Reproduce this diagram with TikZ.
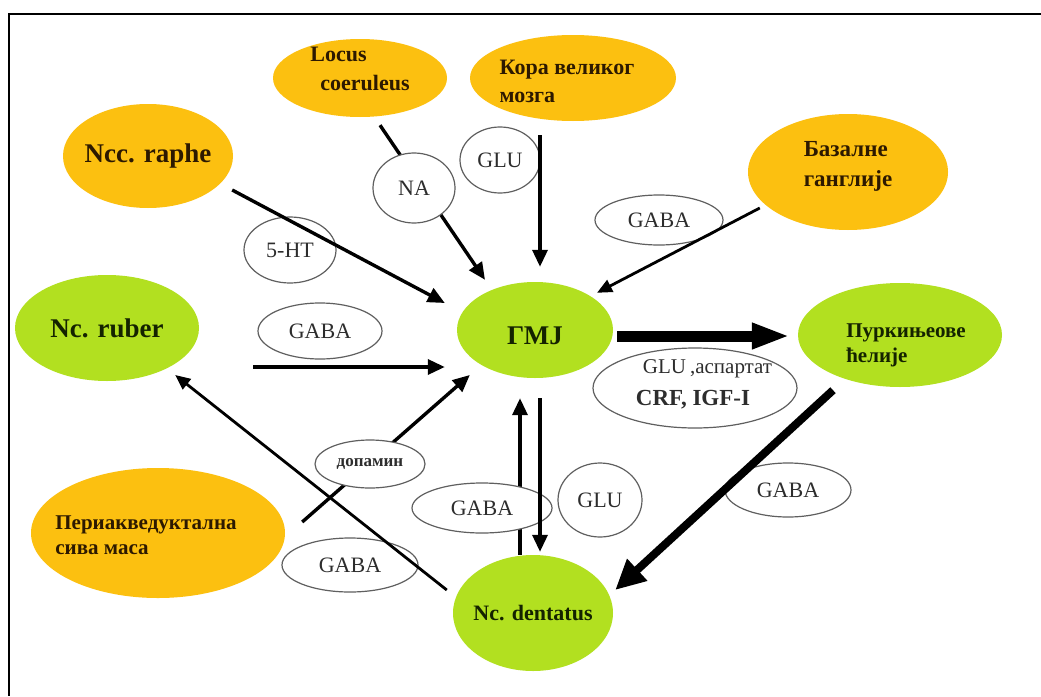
\documentclass[tikz,border=0pt]{standalone}
\usepackage{fontspec}
\setmainfont{Liberation Serif}
\usetikzlibrary{shapes.geometric,arrows.meta}
\definecolor{orng}{RGB}{252,192,16}
\definecolor{grn}{RGB}{178,224,32}
\definecolor{otext}{RGB}{45,25,0}
\definecolor{gtext}{RGB}{20,35,0}
\definecolor{lblline}{RGB}{95,95,95}
\definecolor{lbltext}{RGB}{45,45,45}
\begin{document}
\begin{tikzpicture}[x=1pt,y=-1pt,
  region/.style={ellipse, draw=none, inner sep=0pt},
  orangebox/.style={region, fill=orng},
  greenbox/.style={region, fill=grn},
  otxt/.style 2 args={align=left, text=otext, font=\bfseries\fontsize{#1}{#2}\selectfont},
  gtxt/.style 2 args={align=left, text=gtext, font=\bfseries\fontsize{#1}{#2}\selectfont},
  lbl/.style={ellipse, draw=lblline, line width=1.2pt, fill=white, inner sep=0pt,
    text=lbltext, font=\fontsize{22}{24}\selectfont},
  arr/.style={line width=3.4pt, -{Triangle[length=17pt,width=15pt]}},
  thinarr/.style={line width=2.8pt, -{Triangle[length=15pt,width=13pt]}},
]
\useasboundingbox (0,0) rectangle (1041,696);
\fill[white] (0,0) rectangle (1041,696);
\draw[line width=2.6pt] (8,14) -- (1041,14);
\draw[line width=2pt] (9,13) -- (9,696);

% regions
\node[orangebox, minimum width=174pt, minimum height=78pt,
  label={[otxt={22}{29}, yshift=9pt]center:{Locus\\\hspace*{10pt}coeruleus}}] (locus) at (360,78) {};
\node[orangebox, minimum width=206pt, minimum height=86pt,
  label={[otxt={22}{28}, xshift=-6pt, yshift=-3pt]center:{Кора великог\\мозга}}] (kora) at (573,78) {};
\node[orangebox, minimum width=170pt, minimum height=104pt,
  label={[otxt={27}{29}]center:Ncc. raphe}] (raphe) at (148,156) {};
\node[orangebox, minimum width=200pt, minimum height=116pt,
  label={[otxt={23}{30}, yshift=6pt]center:{Базалне\\ганглије}}] (bazal) at (848,172) {};
\node[greenbox, minimum width=184pt, minimum height=106pt,
  label={[gtxt={27}{29}]center:Nc. ruber}] (ruber) at (107,328) {};
\node[greenbox, minimum width=156pt, minimum height=96pt,
  label={[gtxt={27}{29}, yshift=-6pt]center:ГМЈ}] (gmj) at (535,330) {};
\node[greenbox, minimum width=204pt, minimum height=104pt,
  label={[gtxt={21}{25}, xshift=6pt, yshift=-10pt]center:{Пуркињеове\\ћелије}}] (purk) at (900,335) {};
\node[orangebox, minimum width=254pt, minimum height=130pt,
  label={[otxt={21}{25}, xshift=-12pt, yshift=-2pt]center:{Периакведуктална\\сива маса}}] (pag) at (158,533) {};
\node[greenbox, minimum width=160pt, minimum height=116pt,
  label={[gtxt={22}{24}]center:Nc. dentatus}] (dent) at (533,613) {};

% labels under arrows
\node[lbl, minimum width=92pt, minimum height=66pt] (ht) at (290,250) {5-HT};
\node[lbl, minimum width=80pt, minimum height=66pt] (glut) at (500,160) {GLU};
\node[lbl, minimum width=128pt, minimum height=50pt] (gabatr) at (659,220) {GABA};
\node[lbl, minimum width=124pt, minimum height=56pt] (gabalm) at (320,331) {GABA};
\node[lbl, minimum width=204pt, minimum height=80pt,
  label={[align=left, text=lbltext, xshift=9pt, yshift=4pt, font=\fontsize{21}{32}\selectfont]center:{\hspace*{7pt}GLU\kern4pt,аспартат\\\bfseries\fontsize{23}{32}\selectfont CRF, IGF-I}}] (glua) at (695,388) {};
\node[lbl, minimum width=84pt, minimum height=74pt] (glub) at (600,500) {GLU};
\node[lbl, minimum width=136pt, minimum height=54pt] (gababl) at (350,565) {GABA};
\node[lbl, minimum width=126pt, minimum height=54pt] (gabar) at (788,490) {GABA};

% arrows
\draw[arr] ([xshift=20pt,yshift=-8pt]locus.south) -- ([xshift=-50pt,yshift=2pt]gmj.north);
\draw[arr] ([xshift=-33pt,yshift=-14pt]kora.south) -- ([xshift=5pt,yshift=15pt]gmj.north);
\draw[arr] ([xshift=-1pt,yshift=-34pt]raphe.east) -- ([xshift=-12pt,yshift=27pt]gmj.west);
\draw[thinarr] ([xshift=12pt,yshift=-36pt]bazal.west) -- ([xshift=62pt,yshift=-11pt]gmj.north);
\draw[arr] ([xshift=54pt,yshift=-39pt]ruber.east) -- ([xshift=-12pt,yshift=-37pt]gmj.west);
\draw[arr] ([xshift=17pt,yshift=11pt]pag.east) -- ([xshift=13pt,yshift=-45pt]gmj.west);
\draw[thinarr] ([xshift=-6pt,yshift=23pt]dent.west) -- ([xshift=-24pt,yshift=-47pt]ruber.east);
\draw[arr] ([xshift=-13pt]dent.north) -- ([xshift=-15pt,yshift=-20pt]gmj.south);
\draw[line width=11pt, -{Triangle[length=38pt,width=24pt]}] ([xshift=4pt,yshift=-6pt]gmj.east) -- ([xshift=-8pt,yshift=-1pt]purk.west);
\draw[line width=8pt, -{Triangle[length=30pt,width=28pt]}] ([xshift=-67pt,yshift=-3pt]purk.south) -- ([xshift=2pt,yshift=23pt]dent.east);

% labels over arrows
\node[lbl, minimum width=82pt, minimum height=70pt] (na) at (414,188) {NA};
\node[lbl, minimum width=110pt, minimum height=48pt, font=\bfseries\fontsize{17}{19}\selectfont] (dopa) at (370,464) {допамин};
\node[lbl, minimum width=140pt, minimum height=50pt] (gababc) at (482,508) {GABA};

\draw[arr] ([xshift=5pt,yshift=-20pt]gmj.south) -- ([xshift=7pt,yshift=3pt]dent.north);
\end{tikzpicture}
\end{document}
